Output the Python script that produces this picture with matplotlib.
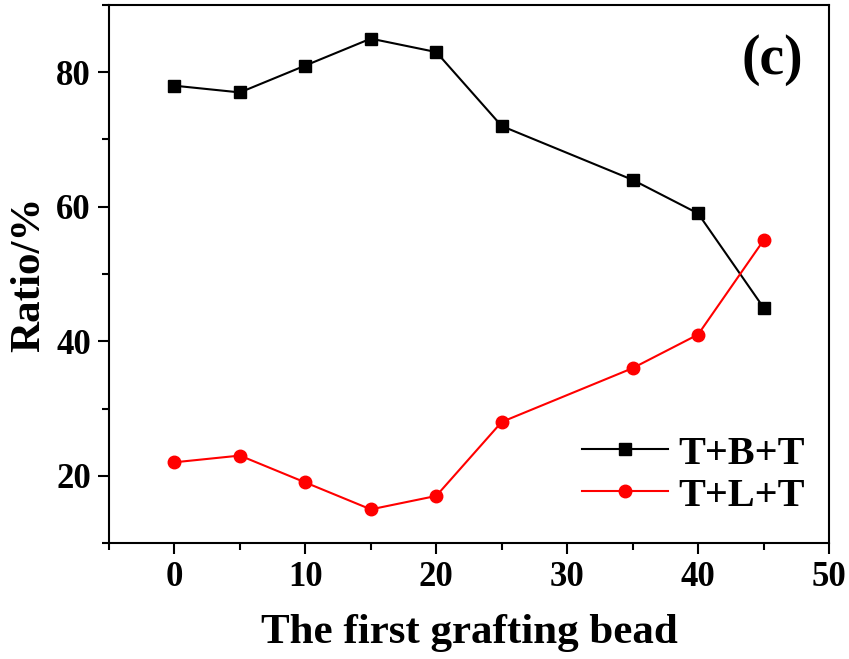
import matplotlib
matplotlib.use("Agg")
import matplotlib.pyplot as plt
from matplotlib.ticker import MultipleLocator

x = [0, 5, 10, 15, 20, 25, 35, 40, 45]
tbt = [78, 77, 81, 85, 83, 72, 64, 59, 45]
tlt = [22, 23, 19, 15, 17, 28, 36, 41, 55]

plt.rcParams['font.family'] = ['Liberation Serif', 'DejaVu Serif']
plt.rcParams['font.weight'] = 'bold'

fig = plt.figure(figsize=(8.49, 6.59), dpi=100)
ax = fig.add_axes([109/849, 1-543/659, (829-109)/849, (543-5)/659])

ax.plot(x, tbt, color='black', marker='s', markersize=8, linewidth=1.5, label='T+B+T')
ax.plot(x, tlt, color='red', marker='o', markersize=9, linewidth=1.5, label='T+L+T')

ax.set_xlim(-5, 50)
ax.set_ylim(10, 90)
ax.xaxis.set_major_locator(MultipleLocator(10))
ax.xaxis.set_minor_locator(MultipleLocator(5))
ax.yaxis.set_major_locator(MultipleLocator(20))
ax.yaxis.set_minor_locator(MultipleLocator(10))
ax.tick_params(which='both', direction='out', top=False, right=False, width=1.5, labelsize=25)
ax.tick_params(which='major', length=8, pad=5)
ax.tick_params(which='minor', length=5)
for s in ax.spines.values():
    s.set_linewidth(1.5)
for lab in ax.get_xticklabels() + ax.get_yticklabels():
    lab.set_fontweight('bold')

ax.set_xlabel('The first grafting bead', fontsize=31, fontweight='bold', labelpad=14)
ax.set_ylabel('Ratio/%', fontsize=31, fontweight='bold', labelpad=6)
ax.text(0.964, 0.898, '(c)', transform=ax.transAxes, fontsize=40, fontweight='bold', ha='right', va='center')

leg = ax.legend(loc='lower right', bbox_to_anchor=(1.0, 0.008), frameon=False,
                prop={'size': 29, 'weight': 'bold'},
                handlelength=2.15, handletextpad=0.25, labelspacing=0.12, borderaxespad=0.2)

fig.savefig('out.png', dpi=100)
